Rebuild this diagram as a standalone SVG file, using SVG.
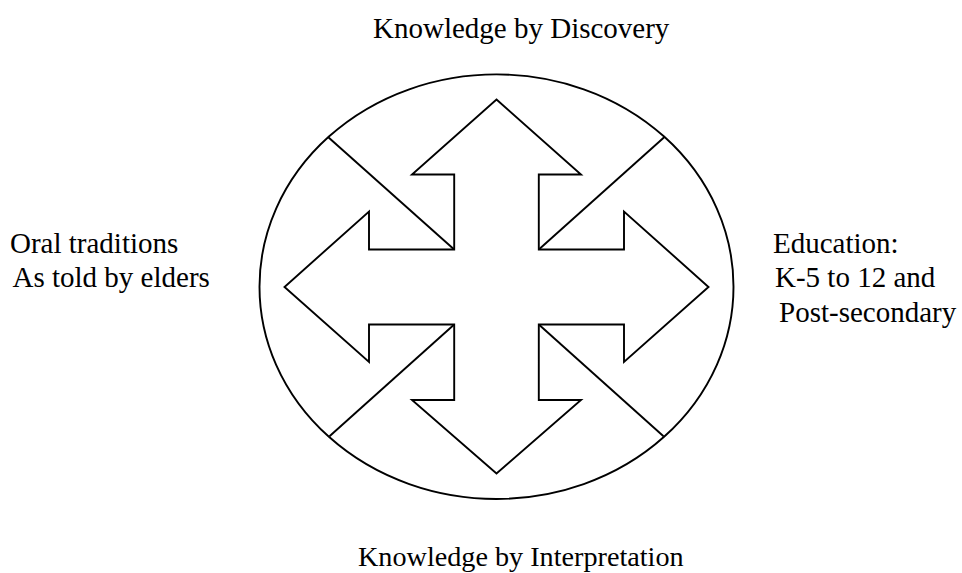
<svg xmlns="http://www.w3.org/2000/svg" width="962" height="573" viewBox="0 0 962 573">
<style>
.ln{fill:none;stroke:#000;stroke-width:1.9;stroke-linejoin:miter}
.sh{fill:#fff;stroke:#000;stroke-width:1.9;stroke-linejoin:miter}
.t{font-family:"Liberation Serif","Times New Roman",serif;font-size:29px;fill:#000}
.tb{font-size:28.2px}
</style>
<rect width="962" height="573" fill="#fff"/>
<g id="circle"><ellipse class="sh" cx="496.5" cy="286.7" rx="237" ry="212.3"/></g>
<g id="connectors">
<line class="ln" x1="454.2" y1="249.5" x2="328.3" y2="137.3"/>
<line class="ln" x1="538.8" y1="249.5" x2="664.2" y2="137.3"/>
<line class="ln" x1="454.2" y1="324.5" x2="329.5" y2="436.3"/>
<line class="ln" x1="538.8" y1="324.5" x2="663.5" y2="436.3"/>
</g>
<g id="arrows"><polygon class="sh" points="496.5,99.5 581,174.5 538.8,174.5 538.8,249.5 624,249.5 624,211.5 708.5,287 624,362 624,324.5 538.8,324.5 538.8,400 581,400 496.5,473.5 412,400 454.2,400 454.2,324.5 369,324.5 369,362 284.5,287 369,211.5 369,249.5 454.2,249.5 454.2,174.5 412,174.5"/></g>
<g id="label-top"><text class="t" x="373" y="37.5">Knowledge by Discovery</text></g>
<g id="label-left"><text class="t" x="10" y="252.5">Oral traditions</text><text class="t" x="12.5" y="286.7">As told by elders</text></g>
<g id="label-right"><text class="t" x="773" y="252.5">Education:</text><text class="t" x="775" y="286.7">K-5 to 12 and</text><text class="t" x="779" y="321.7">Post-secondary</text></g>
<g id="label-bottom"><text class="t tb" x="358" y="565.5">Knowledge by Interpretation</text></g>
</svg>
